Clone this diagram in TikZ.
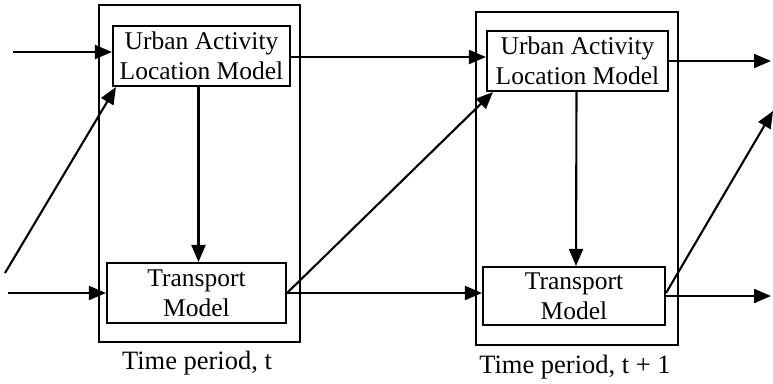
\documentclass[tikz,border=0pt]{standalone}
\usepackage{fontspec}
\setmainfont{Liberation Serif}
\usetikzlibrary{arrows.meta,calc}
\begin{document}
\begin{tikzpicture}[x=1pt,y=-1pt,
  line width=2.1pt,
  arr/.style={-{Triangle[length=17pt,width=14pt]}},
  model/.style={draw,line width=2.1pt,inner sep=0pt,align=center,font=\fontsize{25.5}{30}\selectfont},
  period/.style={draw,line width=2.1pt,inner sep=0pt},
  lab/.style={font=\fontsize{26.5}{30}\selectfont}]
\useasboundingbox (0,0) rectangle (773,383);
% outer boxes
\node[period,minimum width=201pt,minimum height=337pt] (P1) at (199.5,173.5) {};
\node[period,minimum width=202pt,minimum height=333pt] (P2) at (577,178.5) {};
% models
\node[model,minimum width=177pt,minimum height=60pt] (U1) at (201.5,56) {Urban Activity\\Location Model};
\node[model,minimum width=179pt,minimum height=60pt] (T1) at (196.5,293) {Transport\\Model};
\node[model,minimum width=181pt,minimum height=60pt] (U2) at (577.5,61) {Urban Activity\\Location Model};
\node[model,minimum width=182pt,minimum height=58pt] (T2) at (574,296) {Transport\\Model};
% labels
\node[lab] (L1) at (197,363) {Time period, t};
\node[lab] (L2) at (575,367) {Time period, t + 1};
% free ends
\coordinate (i1) at (13,52);
\coordinate (i2) at (8,293);
\coordinate (i3) at (5,273);
\coordinate (o1) at (771,61);
\coordinate (o2) at (771,296);
\coordinate (o3) at (773,111);
% incoming
\draw[arr] (i1) -- (i1 -| U1.west);
\draw[arr] (i2) -- (i2 -| T1.west);
\draw[arr] (i3) -- ($(U1.south west)+(4,0)$);
% vertical
\draw[arr] ($(U1.south)+(-3,0)$) -- ($(T1.north)+(2,0)$);
\draw[arr] ($(U2.south)+(-1,0)$) -- ($(T2.north)+(2,0)$);
% between
\draw[arr] ($(U1.east)+(0,1)$) -- ($(U1.east -| U2.west)+(0,1)$);
\draw[arr] (T1.east) -- (T1.east -| T2.west);
\draw[arr] (T1.east) -- ($(U2.south west)+(7,0)$);
% outgoing
\draw[arr] (U2.east) -- (o1);
\draw[arr] (T2.east) -- (o2);
\draw[arr] ($(T2.east)+(0,-3)$) -- (o3);
\end{tikzpicture}
\end{document}
